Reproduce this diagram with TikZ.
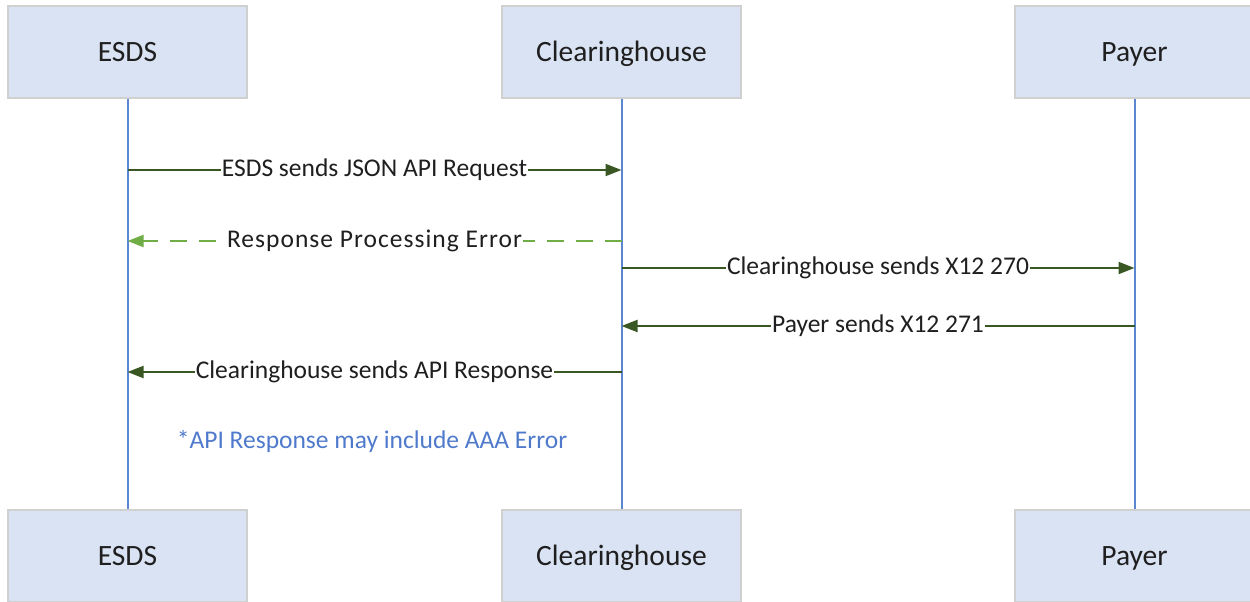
\documentclass[tikz,border=0pt]{standalone}
\usepackage{fontspec}
\setmainfont{Carlito}
\usetikzlibrary{arrows.meta}
\definecolor{boxfill}{RGB}{218,227,243}
\definecolor{boxline}{RGB}{208,208,208}
\definecolor{life}{RGB}{91,134,210}
\definecolor{msg}{RGB}{56,87,35}
\definecolor{err}{RGB}{112,173,71}
\definecolor{notecol}{RGB}{79,122,204}
\begin{document}
\begin{tikzpicture}[x=1pt,y=-1pt,
  actor/.style={draw=boxline, fill=boxfill, line width=1.2pt, minimum width=239pt,
    minimum height=92pt, inner sep=0pt, text height=19pt, text depth=0pt,
    text=black!88, font=\fontsize{29.5}{34}\selectfont},
  lifeline/.style={draw=life, line width=2pt},
  msgline/.style={draw=msg, line width=2pt, -{Triangle[length=16pt,width=12pt]}},
  errline/.style={draw=err, line width=2pt, dash pattern=on 17pt off 12pt,
    -{Triangle[length=16pt,width=12pt]}},
  lbl/.style={fill=white, inner xsep=1pt, inner ysep=0pt, text=black!88,
    font=\fontsize{25.5}{30}\selectfont},
  notetext/.style={text=notecol, font=\fontsize{25.5}{30}\selectfont}]
\useasboundingbox (0,0) rectangle (1250,602);

% participants, top and bottom
\node[actor] (esdsT) at (127.5,52) {ESDS};
\node[actor] (chT)   at (621.5,52) {Clearinghouse};
\node[actor] (payT)  at (1134.5,52) {Payer};
\node[actor] (esdsB) at (127.5,556) {ESDS};
\node[actor] (chB)   at (621.5,556) {Clearinghouse};
\node[actor] (payB)  at (1134.5,556) {Payer};

% lifelines
\draw[lifeline] (esdsT.south) -- (esdsB.north);
\draw[lifeline] (chT.south) -- (chB.north);
\draw[lifeline] (payT.south) -- (payB.north);

% message heights
\coordinate (m1) at (0,170);
\coordinate (m2) at (0,241);
\coordinate (m3) at (0,268);
\coordinate (m4) at (0,326);
\coordinate (m5) at (0,372);

% messages
\draw[msgline] (esdsT |- m1) -- node[lbl] {ESDS sends JSON API Request} (chT |- m1);
\draw[errline] (chT |- m2) -- node[lbl] {\addfontfeature{LetterSpace=4}Response Processing Error} (esdsT |- m2);
\draw[msgline] (chT |- m3) -- node[lbl] {Clearinghouse sends X12 270} (payT |- m3);
\draw[msgline] (payT |- m4) -- node[lbl] {Payer sends X12 271} (chT |- m4);
\draw[msgline] (chT |- m5) -- node[lbl] {Clearinghouse sends API Response} (esdsT |- m5);

% footnote
\node[notetext] (note) at (372,441) {*API Response may include AAA Error};
\end{tikzpicture}
\end{document}
